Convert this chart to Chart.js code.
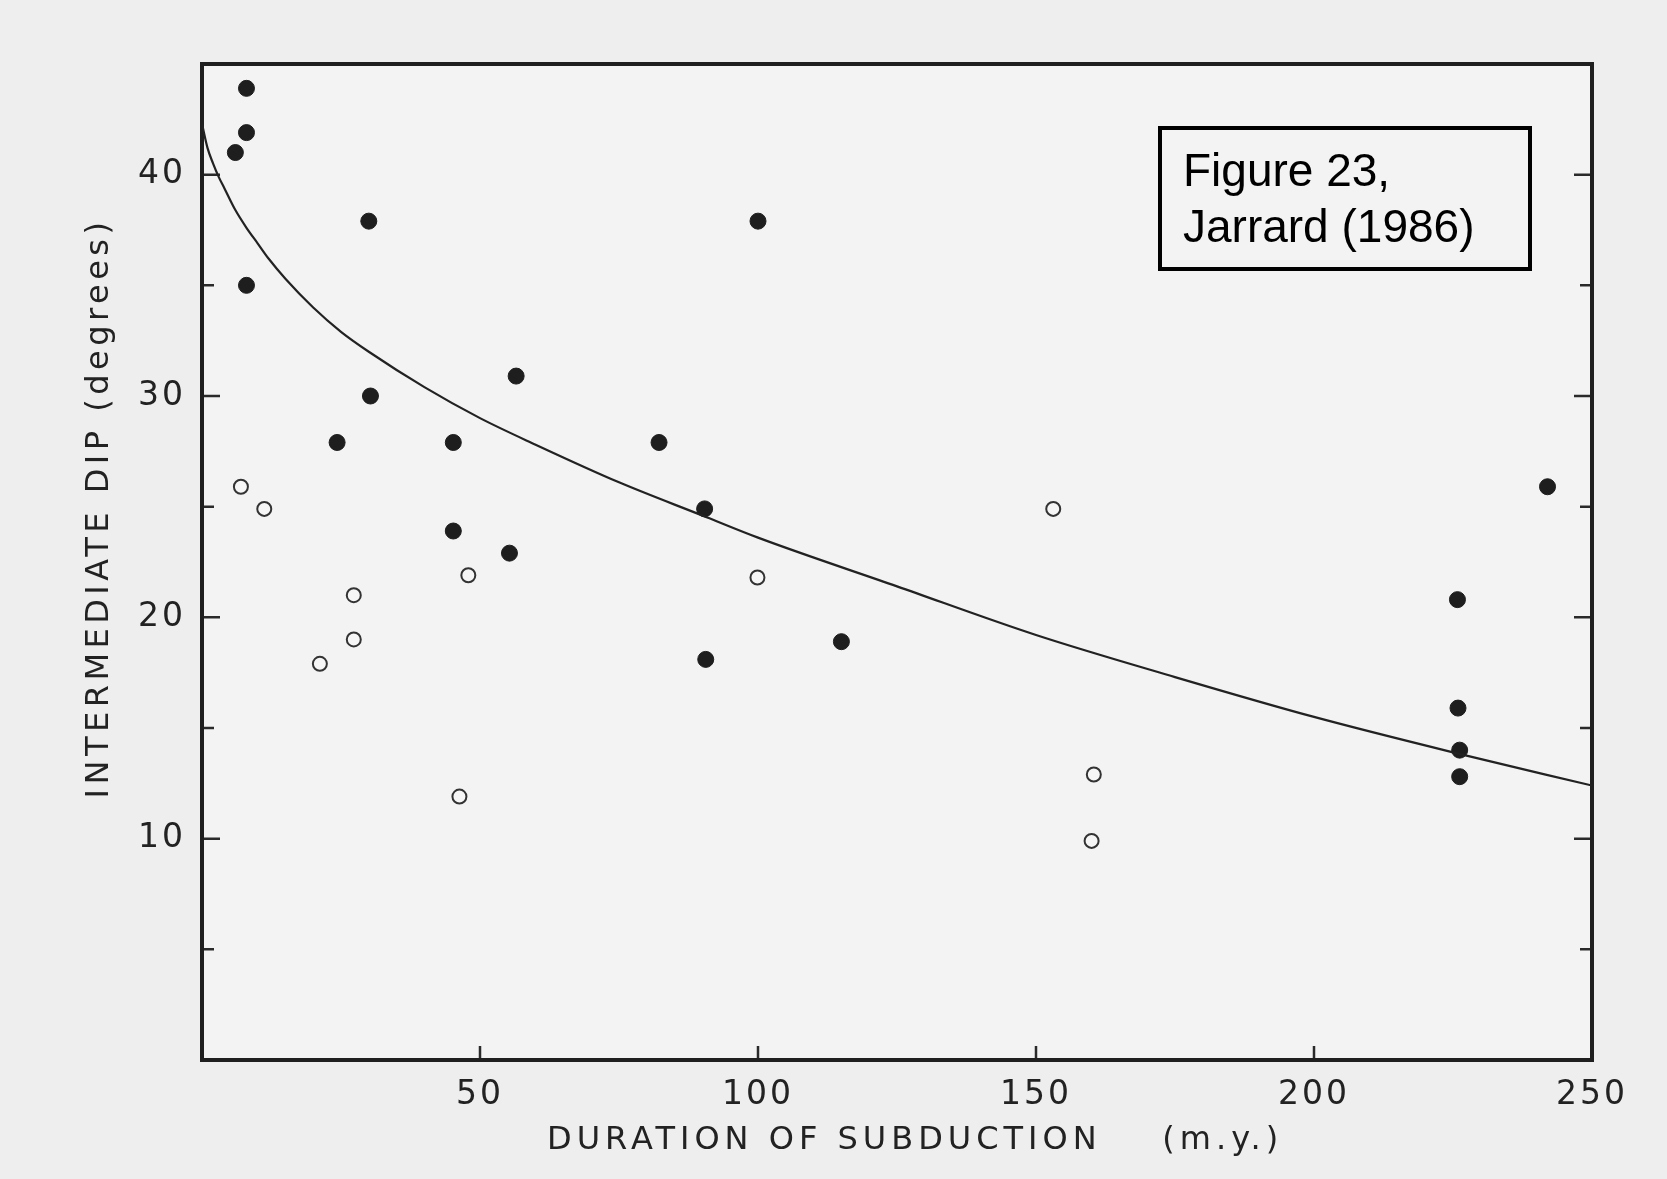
<!DOCTYPE html>
<html>
<head>
<meta charset="utf-8">
<script src="https://cdn.jsdelivr.net/npm/chart.js@4.4.1/dist/chart.umd.min.js"></script>
<style>
  html, body { margin: 0; padding: 0; background: #eeeeee; }
  #chart { display: block; }
</style>
</head>
<body>
<canvas id="chart" width="1667" height="1179"></canvas>
<script>
// Fitted trend curve
const curveX = [0, 1, 2, 3, 4, 6, 8, 10, 12, 15, 20, 25, 30, 40, 50, 60, 75, 90, 100, 125, 150, 175, 200, 225, 250];
const curveY = [42.3, 41.2, 40.5, 39.9, 39.4, 38.4, 37.6, 36.9, 36.2, 35.3, 34.0, 32.9, 32.0, 30.4, 29.0, 27.8, 26.1, 24.6, 23.6, 21.4, 19.2, 17.3, 15.5, 13.9, 12.4];

// Solid symbols
const filledX = [8, 8, 6, 30, 8, 56.5, 30.3, 24.3, 45.2, 82.2, 45.2, 90.4, 55.3, 100, 90.6, 115, 242, 225.8, 225.9, 226.2, 226.2];
const filledY = [43.9, 41.9, 41, 37.9, 35, 30.9, 30, 27.9, 27.9, 27.9, 23.9, 24.9, 22.9, 37.9, 18.1, 18.9, 25.9, 20.8, 15.9, 14, 12.8];

// Open symbols
const openX = [7, 11.2, 27.3, 27.3, 21.2, 47.9, 46.3, 99.9, 153.1, 160.4, 160];
const openY = [25.9, 24.9, 21, 19, 17.9, 21.9, 11.9, 21.8, 24.9, 12.9, 9.9];

// Tick labels and inside tick marks
const xTickLabels = [50, 100, 150, 200, 250];
const yTickLabels = [10, 20, 30, 40];
const xInnerTicks = [50, 100, 150, 200];
const yMajorTicks = [10, 20, 30, 40];
const yMinorTicks = [5, 15, 25, 35];

const xTitle = 'DURATION OF SUBDUCTION    (m.y.)';
const yTitle = 'INTERMEDIATE DIP (degrees)';
const noteLines = ['Figure 23,', 'Jarrard (1986)'];

const ink = '#1f1f1f';
const textInk = '#222';
const labelFont = "'DejaVu Sans', sans-serif";

function toPoints(xs, ys) {
  return xs.map((x, i) => ({ x: x, y: ys[i] }));
}

// Frame, inward ticks, titles and the note box
const framePlugin = {
  id: 'frame',
  beforeDraw(chart) {
    const { ctx, chartArea: a } = chart;
    ctx.save();
    ctx.fillStyle = '#f3f3f3';
    ctx.fillRect(a.left, a.top, a.right - a.left, a.bottom - a.top);
    ctx.restore();
    // wide lettering for the tick labels
    ctx.letterSpacing = '3px';
  },
  beforeDatasetsDraw(chart) {
    const { ctx, chartArea: a, scales } = chart;
    ctx.save();
    ctx.letterSpacing = '0px';
    ctx.strokeStyle = '#2a2a2a';
    ctx.lineWidth = 2.5;
    ctx.beginPath();
    yMajorTicks.forEach(v => {
      const y = scales.y.getPixelForValue(v);
      ctx.moveTo(a.left, y); ctx.lineTo(a.left + 18, y);
      ctx.moveTo(a.right, y); ctx.lineTo(a.right - 18, y);
    });
    yMinorTicks.forEach(v => {
      const y = scales.y.getPixelForValue(v);
      ctx.moveTo(a.left, y); ctx.lineTo(a.left + 12, y);
      ctx.moveTo(a.right, y); ctx.lineTo(a.right - 12, y);
    });
    xInnerTicks.forEach(v => {
      const x = scales.x.getPixelForValue(v);
      ctx.moveTo(x, a.bottom); ctx.lineTo(x, a.bottom - 14);
    });
    ctx.stroke();
    ctx.strokeStyle = ink;
    ctx.lineWidth = 4;
    ctx.strokeRect(a.left, a.top, a.right - a.left, a.bottom - a.top);
    ctx.restore();
  },
  afterDraw(chart) {
    const { ctx } = chart;
    ctx.save();
    ctx.fillStyle = textInk;
    ctx.font = '32px ' + labelFont;
    ctx.letterSpacing = '5px';
    ctx.textAlign = 'left';
    ctx.textBaseline = 'alphabetic';
    ctx.fillText(xTitle, 547, 1149);

    ctx.letterSpacing = '4.5px';
    ctx.translate(108, 508);
    ctx.rotate(-Math.PI / 2);
    ctx.textAlign = 'center';
    ctx.fillText(yTitle, 0, 0);
    ctx.restore();

    ctx.save();
    ctx.letterSpacing = '0px';
    ctx.strokeStyle = '#000';
    ctx.lineWidth = 4;
    ctx.strokeRect(1160, 128, 370, 141);
    ctx.fillStyle = '#000';
    ctx.font = "46px 'Liberation Sans', Arial, sans-serif";
    ctx.textAlign = 'left';
    ctx.fillText(noteLines[0], 1183, 186);
    ctx.fillText(noteLines[1], 1183, 242);
    ctx.restore();
    ctx.letterSpacing = '0px';
  }
};

const ctx = document.getElementById('chart').getContext('2d');
const chart = new Chart(ctx, {
  type: 'scatter',
  data: {
    datasets: [
      {
        label: 'Trend',
        type: 'line',
        data: toPoints(curveX, curveY),
        borderColor: '#222',
        borderWidth: 2.2,
        pointRadius: 0,
        fill: false,
        cubicInterpolationMode: 'monotone'
      },
      {
        label: 'Solid',
        data: toPoints(filledX, filledY),
        pointRadius: 8,
        pointBorderWidth: 1,
        pointBackgroundColor: '#1e1e1e',
        pointBorderColor: '#1e1e1e'
      },
      {
        label: 'Open',
        data: toPoints(openX, openY),
        pointRadius: 7,
        pointBorderWidth: 2,
        pointBackgroundColor: '#f6f6f6',
        pointBorderColor: '#333'
      }
    ]
  },
  options: {
    responsive: false,
    animation: false,
    devicePixelRatio: 1,
    layout: { padding: { top: 64, right: 75, bottom: 0, left: 0 } },
    plugins: { legend: { display: false }, tooltip: { enabled: false } },
    scales: {
      x: {
        type: 'linear',
        min: 0,
        max: 250,
        grid: { display: false, drawTicks: false },
        border: { display: false },
        ticks: {
          stepSize: 50,
          padding: 16,
          color: textInk,
          font: { family: labelFont, size: 33 },
          maxRotation: 0,
          callback: v => xTickLabels.includes(v) ? String(v) : ''
        },
        afterFit: s => { s.height = 119; }
      },
      y: {
        type: 'linear',
        min: 0,
        max: 45,
        grid: { display: false, drawTicks: false },
        border: { display: false },
        ticks: {
          stepSize: 5,
          padding: 16,
          color: textInk,
          font: { family: labelFont, size: 33 },
          callback: v => yTickLabels.includes(v) ? String(v) : ''
        },
        afterFit: s => { s.width = 202; }
      }
    }
  },
  plugins: [framePlugin]
});
</script>
</body>
</html>
